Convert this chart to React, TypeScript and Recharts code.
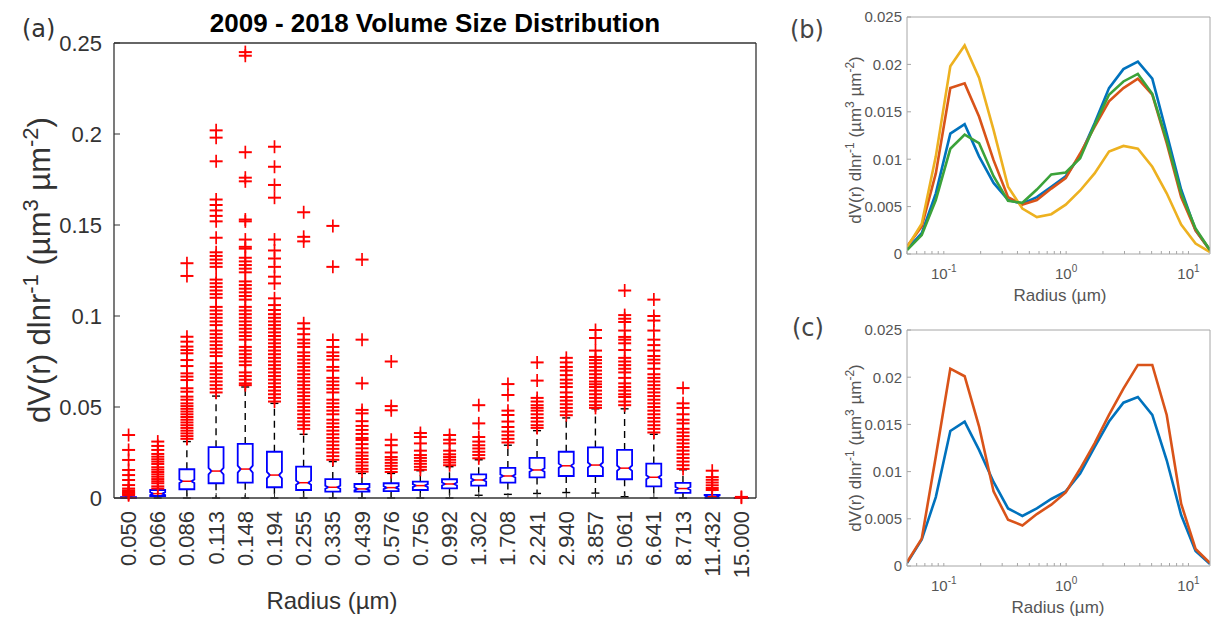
import React from "react";
import { ComposedChart, Bar, Scatter, XAxis, YAxis, LineChart, Line } from "recharts";

const FONT = "'Liberation Sans', Arial, Helvetica, sans-serif";
const LETTER_FONT = "'DejaVu Sans', Verdana, sans-serif";

// ---- panel (a): box plot per radius bin ----
const radiusLabels = [
  "0.050", "0.066", "0.086", "0.113", "0.148", "0.194", "0.255", "0.335", "0.439", "0.576", "0.756",
  "0.992", "1.302", "1.708", "2.241", "2.940", "3.857", "5.061", "6.641", "8.713", "11.432", "15.000",
];
const q1 = [0, 0.0011, 0.0048, 0.0081, 0.0084, 0.0059, 0.0044, 0.0035, 0.0035, 0.0038, 0.0044, 0.0053, 0.0068, 0.0085, 0.0113, 0.0121, 0.0121, 0.0103, 0.0064, 0.0028, 0, 0];
const med = [0.0001, 0.0024, 0.0092, 0.0148, 0.0159, 0.0126, 0.0084, 0.0059, 0.005, 0.0057, 0.0068, 0.0077, 0.0099, 0.0121, 0.0154, 0.0177, 0.0181, 0.0164, 0.0114, 0.0052, 0.0007, 0];
const q3 = [0.0005, 0.0044, 0.0158, 0.0279, 0.0297, 0.0254, 0.0172, 0.0104, 0.0077, 0.0081, 0.009, 0.0103, 0.013, 0.0165, 0.022, 0.0254, 0.0278, 0.0264, 0.0189, 0.0083, 0.0017, 0];
const whiskLo = [0, 0, 0, 0, 0, 0, 0, 0, 0, 0, 0, 0, 0.0015, 0.002, 0.0025, 0.003, 0.0027, 0.0007, 0, 0, 0, 0];
const whiskHi = [0.0012, 0.0048, 0.031, 0.056, 0.061, 0.052, 0.035, 0.02, 0.0135, 0.0135, 0.015, 0.0172, 0.021, 0.029, 0.037, 0.044, 0.049, 0.049, 0.035, 0.0155, 0.0042, 0];

const outliers: number[][] = [
  [0.0346, 0.0264, 0.0209, 0.0154, 0.0126, 0.0099, 0.0071, 0.0052, 0.0042, 0.0035, 0.0028, 0.0021, 0.0015],
  [0.031, 0.0286, 0.0264, 0.0242, 0.0227, 0.0213, 0.02, 0.0187, 0.0169, 0.0156, 0.0143, 0.013, 0.0117, 0.0104, 0.0092, 0.0081, 0.0064, 0.0052],
  [0.129, 0.122, 0.0886, 0.0859, 0.0832, 0.0813, 0.0795, 0.0758, 0.0725, 0.0685, 0.0667, 0.0648, 0.0603, 0.0584, 0.0557, 0.054, 0.052, 0.0505, 0.049, 0.0475, 0.046, 0.0445, 0.043, 0.0415, 0.04, 0.0385, 0.037, 0.0355, 0.034, 0.0325],
  [0.202, 0.198, 0.185, 0.164, 0.161, 0.158, 0.155, 0.152, 0.143, 0.135, 0.133, 0.131, 0.129, 0.127, 0.12, 0.118, 0.116, 0.114, 0.112, 0.11, 0.105, 0.103, 0.101, 0.099, 0.097, 0.095, 0.092, 0.09, 0.088, 0.086, 0.084, 0.082, 0.08, 0.078, 0.074, 0.072, 0.07, 0.068, 0.066, 0.064, 0.062, 0.06, 0.058],
  [0.245, 0.243, 0.19, 0.176, 0.174, 0.153, 0.152, 0.142, 0.138, 0.137, 0.132, 0.13, 0.128, 0.126, 0.124, 0.119, 0.117, 0.115, 0.113, 0.111, 0.109, 0.105, 0.103, 0.101, 0.099, 0.097, 0.095, 0.093, 0.091, 0.089, 0.087, 0.083, 0.081, 0.079, 0.077, 0.075, 0.073, 0.069, 0.067, 0.065, 0.063, 0.062],
  [0.193, 0.182, 0.172, 0.165, 0.142, 0.136, 0.1316, 0.127, 0.1216, 0.1179, 0.1097, 0.106, 0.1033, 0.101, 0.099, 0.097, 0.095, 0.093, 0.091, 0.089, 0.087, 0.085, 0.083, 0.081, 0.079, 0.077, 0.075, 0.073, 0.071, 0.069, 0.067, 0.065, 0.063, 0.061, 0.059, 0.057, 0.055, 0.053],
  [0.157, 0.1435, 0.141, 0.096, 0.093, 0.09, 0.087, 0.085, 0.083, 0.08, 0.078, 0.076, 0.074, 0.072, 0.07, 0.068, 0.066, 0.064, 0.062, 0.06, 0.058, 0.056, 0.054, 0.052, 0.05, 0.048, 0.046, 0.044, 0.042, 0.04, 0.038],
  [0.1495, 0.127, 0.0868, 0.083, 0.08, 0.078, 0.076, 0.072, 0.07, 0.066, 0.064, 0.062, 0.06, 0.058, 0.054, 0.052, 0.05, 0.048, 0.046, 0.043, 0.041, 0.039, 0.037, 0.035, 0.033, 0.031, 0.029, 0.027, 0.025, 0.023, 0.021],
  [0.131, 0.087, 0.063, 0.0484, 0.0465, 0.0422, 0.0396, 0.0374, 0.0352, 0.033, 0.0319, 0.0296, 0.0273, 0.025, 0.0232, 0.0214, 0.0196, 0.0178, 0.016, 0.0145],
  [0.075, 0.0505, 0.0482, 0.032, 0.029, 0.025, 0.0225, 0.021, 0.0193, 0.0177, 0.016, 0.0143],
  [0.0357, 0.0335, 0.03, 0.026, 0.0236, 0.022, 0.0204, 0.0188, 0.0171, 0.0155],
  [0.0346, 0.032, 0.03, 0.026, 0.024, 0.0225, 0.021, 0.0195, 0.018],
  [0.051, 0.041, 0.0335, 0.031, 0.029, 0.0272, 0.0254, 0.0236, 0.0218],
  [0.0626, 0.0566, 0.048, 0.0456, 0.042, 0.039, 0.0365, 0.0345, 0.0325, 0.0305],
  [0.0745, 0.0645, 0.055, 0.053, 0.051, 0.0495, 0.048, 0.046, 0.044, 0.042, 0.04, 0.0385],
  [0.077, 0.0745, 0.072, 0.07, 0.0675, 0.065, 0.063, 0.061, 0.058, 0.0555, 0.0535, 0.0515, 0.0495, 0.0475, 0.0455],
  [0.0923, 0.0879, 0.081, 0.0775, 0.0758, 0.074, 0.072, 0.07, 0.068, 0.066, 0.064, 0.0625, 0.061, 0.059, 0.057, 0.055, 0.053, 0.051, 0.0495],
  [0.114, 0.1005, 0.0985, 0.0967, 0.092, 0.0885, 0.087, 0.085, 0.0813, 0.077, 0.075, 0.073, 0.071, 0.069, 0.066, 0.063, 0.061, 0.059, 0.057, 0.0555, 0.053, 0.051],
  [0.109, 0.1, 0.0975, 0.092, 0.087, 0.084, 0.081, 0.078, 0.076, 0.074, 0.071, 0.068, 0.066, 0.064, 0.062, 0.06, 0.058, 0.056, 0.054, 0.052, 0.05, 0.048, 0.046, 0.044, 0.042, 0.04, 0.038, 0.036],
  [0.0604, 0.052, 0.0495, 0.046, 0.043, 0.041, 0.038, 0.036, 0.034, 0.032, 0.03, 0.028, 0.026, 0.024, 0.022, 0.02, 0.018, 0.016],
  [0.015, 0.0115, 0.01, 0.0085, 0.007, 0.0055, 0.0044],
  [0.0006, 0.0002],
];
const yTicksA = [0, 0.05, 0.1, 0.15, 0.2, 0.25];

// ---- panels (b) and (c): mean size distributions ----
const radii = [0.05, 0.066, 0.086, 0.113, 0.148, 0.194, 0.255, 0.335, 0.439, 0.576, 0.756, 0.992, 1.302, 1.708, 2.241, 2.94, 3.857, 5.061, 6.641, 8.713, 11.432, 15];
const bBlue = [0.0005, 0.0022, 0.0064, 0.0127, 0.0137, 0.0103, 0.0075, 0.0057, 0.0053, 0.006, 0.0071, 0.0082, 0.0104, 0.0138, 0.0175, 0.0195, 0.0203, 0.0185, 0.0127, 0.0068, 0.0025, 0.0004];
const bRed = [0.0008, 0.0029, 0.0085, 0.0175, 0.018, 0.0145, 0.0099, 0.006, 0.0052, 0.0057, 0.0069, 0.008, 0.0106, 0.0134, 0.0161, 0.0175, 0.0185, 0.0168, 0.0117, 0.006, 0.0025, 0.0004];
const bYellow = [0.0007, 0.0032, 0.0103, 0.0198, 0.022, 0.0186, 0.0131, 0.0071, 0.0048, 0.0039, 0.0042, 0.0052, 0.0067, 0.0085, 0.0108, 0.0114, 0.0111, 0.0092, 0.0064, 0.0031, 0.0011, 0.0002];
const bGreen = [0.0004, 0.002, 0.0057, 0.0111, 0.0126, 0.0117, 0.0082, 0.0056, 0.0054, 0.0068, 0.0084, 0.0086, 0.0101, 0.0136, 0.0168, 0.0182, 0.019, 0.0169, 0.012, 0.0064, 0.0027, 0.0004];
const cBlue = [0.0003, 0.0028, 0.0073, 0.0143, 0.0153, 0.0123, 0.0089, 0.0061, 0.0053, 0.0061, 0.0071, 0.0079, 0.0098, 0.0126, 0.0153, 0.0173, 0.0179, 0.016, 0.0112, 0.0054, 0.0016, 0.0002];
const cRed = [0.0004, 0.0029, 0.0116, 0.0209, 0.0201, 0.0148, 0.0079, 0.0049, 0.0043, 0.0055, 0.0065, 0.0078, 0.0103, 0.013, 0.016, 0.0188, 0.0213, 0.0213, 0.016, 0.0066, 0.0018, 0.0003];
const yTicksBC = [0, 0.005, 0.01, 0.015, 0.02, 0.025];
const logTicks = [0.05, 0.06, 0.07, 0.08, 0.09, 0.1, 0.2, 0.3, 0.4, 0.5, 0.6, 0.7, 0.8, 0.9, 1, 2, 3, 4, 5, 6, 7, 8, 9, 10];

const boxRows = radiusLabels.map((r, i) => ({
  r,
  q1: q1[i],
  med: med[i],
  q3: q3[i],
  lo: whiskLo[i],
  hi: whiskHi[i],
}));
const outlierPts = outliers.flatMap((vals, i) => vals.map((v) => ({ i, v })));
const bRows = radii.map((r, i) => ({ r, blue: bBlue[i], red: bRed[i], yellow: bYellow[i], green: bGreen[i] }));
const cRows = radii.map((r, i) => ({ r, blue: cBlue[i], red: cRed[i] }));

const fmt = (v: number) => (v === 0 ? "0" : String(v));

// notched box + dashed whiskers, drawn inside the bar that spans the whisker range
function BoxShape(props: any) {
  const { x, y, width, height, payload } = props;
  if (x == null || !payload) return null;
  const top = Math.min(y, y + height);
  const bot = Math.max(y, y + height);
  const span = payload.hi - payload.lo;
  const py = (v: number) => (span > 0 ? bot - ((v - payload.lo) / span) * (bot - top) : bot);
  const cx = x + width / 2;
  const L = x;
  const R = x + width;
  const yq1 = py(payload.q1);
  const yq3 = py(payload.q3);
  const ym = py(payload.med);
  const ylo = py(payload.lo);
  const yhi = py(payload.hi);
  const boxH = yq1 - yq3;
  const nh = Math.min(Math.max(boxH * 0.09, 1.5), ym - yq3, yq1 - ym);
  const ins = 3;
  const notch = nh > 0.3;
  const d = notch
    ? `M${L},${yq3} H${R} V${ym - nh} L${R - ins},${ym} L${R},${ym + nh} V${yq1} H${L} V${ym + nh} L${L + ins},${ym} L${L},${ym - nh} Z`
    : `M${L},${yq3} H${R} V${yq1} H${L} Z`;
  return (
    <g>
      {yhi < yq3 && <line x1={cx} x2={cx} y1={yq3} y2={yhi} stroke="#000" strokeWidth={1.4} strokeDasharray="7 5" />}
      {ylo > yq1 && <line x1={cx} x2={cx} y1={yq1} y2={ylo} stroke="#000" strokeWidth={1.4} strokeDasharray="7 5" />}
      <line x1={cx - 4} x2={cx + 4} y1={yhi} y2={yhi} stroke="#000" strokeWidth={1.4} />
      <line x1={cx - 4} x2={cx + 4} y1={ylo} y2={ylo} stroke="#000" strokeWidth={1.4} />
      <path d={d} fill="none" stroke="#0000ff" strokeWidth={1.8} />
      <line x1={L + (notch ? ins : 0)} x2={R - (notch ? ins : 0)} y1={ym} y2={ym} stroke="#ff0000" strokeWidth={1.5} />
    </g>
  );
}

function PlusShape(props: any) {
  const { cx, cy } = props;
  if (cx == null || cy == null) return null;
  return (
    <g>
      <line x1={cx - 6.5} x2={cx + 6.5} y1={cy} y2={cy} stroke="#ff0000" strokeWidth={2} />
      <line x1={cx} x2={cx} y1={cy - 6.5} y2={cy + 6.5} stroke="#ff0000" strokeWidth={1.7} />
    </g>
  );
}

function RotTick({ x, y, payload }: any) {
  return (
    <text
      x={x}
      y={y}
      transform={`rotate(-90 ${x} ${y})`}
      textAnchor="end"
      dominantBaseline="central"
      fontSize={22}
      fill="#333"
      fontFamily={FONT}
    >
      {payload.value}
    </text>
  );
}

function LogTick({ x, y, payload }: any) {
  const v = payload.value;
  const e = Math.round(Math.log10(v));
  if (Math.abs(Math.log10(v) - e) > 1e-6) return null;
  return (
    <text x={x} y={y + 25} textAnchor="middle" fontSize={15} fill="#555" fontFamily={FONT}>
      10
      <tspan dy={-7} fontSize={10}>
        {e}
      </tspan>
    </text>
  );
}

function SmallPanel({ rows, series, top }: { rows: any[]; series: { key: string; color: string }[]; top: number }) {
  const axisStroke = "#a6a6a6";
  return (
    <LineChart width={452} height={310} data={rows} margin={{ top, right: 1, bottom: 56 - (top === 16 ? 30 : 32), left: 97 }}>
      <XAxis
        dataKey="r"
        type="number"
        scale="log"
        domain={[0.05, 15]}
        allowDataOverflow
        ticks={logTicks}
        interval={0}
        height={30}
        tickSize={-3}
        tickMargin={3}
        tick={<LogTick />}
        axisLine={{ stroke: axisStroke }}
        tickLine={{ stroke: axisStroke }}
      />
      <XAxis
        xAxisId="top"
        orientation="top"
        type="number"
        scale="log"
        domain={[0.05, 15]}
        allowDataOverflow
        ticks={logTicks}
        interval={0}
        height={1}
        tickSize={-3}
        tick={false}
        axisLine={{ stroke: axisStroke }}
        tickLine={{ stroke: axisStroke }}
      />
      <YAxis
        type="number"
        domain={[0, 0.025]}
        ticks={yTicksBC}
        interval={0}
        width={50}
        tickSize={-4}
        tickMargin={9}
        tickFormatter={fmt}
        tick={{ fontSize: 15, fill: "#555", fontFamily: FONT }}
        axisLine={{ stroke: axisStroke }}
        tickLine={{ stroke: axisStroke }}
      />
      <YAxis
        yAxisId="right"
        orientation="right"
        type="number"
        domain={[0, 0.025]}
        ticks={yTicksBC}
        interval={0}
        width={1}
        tickSize={-4}
        tick={false}
        axisLine={{ stroke: axisStroke }}
        tickLine={{ stroke: axisStroke }}
      />
      {series.map((s) => (
        <Line
          key={s.key}
          dataKey={s.key}
          type="linear"
          stroke={s.color}
          strokeWidth={2.6}
          dot={false}
          isAnimationActive={false}
        />
      ))}
    </LineChart>
  );
}

export default function App() {
  const axisA = "#333";
  return (
    <div style={{ position: "relative", width: 1212, height: 620, background: "#fff", overflow: "hidden" }}>
      <style>{`body{margin:0}`}</style>

      <div style={{ position: "absolute", left: 0, top: 0 }}>
        <ComposedChart width={760} height={620} data={boxRows} margin={{ top: 42, right: 3, bottom: 42, left: 54 }}>
          <XAxis
            xAxisId="cat"
            dataKey="r"
            type="category"
            interval={0}
            height={80}
            tickSize={-5}
            tickMargin={18}
            tick={<RotTick />}
            axisLine={{ stroke: axisA, strokeWidth: 1.3 }}
            tickLine={{ stroke: axisA }}
          />
          <XAxis xAxisId="num" dataKey="i" type="number" domain={[-0.5, 21.5]} hide />
          <XAxis
            xAxisId="top"
            orientation="top"
            type="number"
            domain={[-0.5, 21.5]}
            ticks={radiusLabels.map((_, i) => i)}
            interval={0}
            height={1}
            tickSize={-5}
            tick={false}
            axisLine={{ stroke: axisA, strokeWidth: 1.3 }}
            tickLine={{ stroke: axisA }}
          />
          <YAxis
            dataKey="v"
            type="number"
            domain={[0, 0.25]}
            ticks={yTicksA}
            interval={0}
            width={60}
            tickSize={-6}
            tickMargin={18}
            tickFormatter={fmt}
            tick={{ fontSize: 22, fill: "#333", fontFamily: FONT }}
            axisLine={{ stroke: axisA, strokeWidth: 1.3 }}
            tickLine={{ stroke: axisA }}
          />
          <YAxis
            yAxisId="right"
            orientation="right"
            type="number"
            domain={[0, 0.25]}
            ticks={yTicksA}
            interval={0}
            width={1}
            tickSize={-6}
            tick={false}
            axisLine={{ stroke: axisA, strokeWidth: 1.3 }}
            tickLine={{ stroke: axisA }}
          />
          <Bar
            xAxisId="cat"
            dataKey={(d: any) => [d.lo, d.hi]}
            barSize={15}
            shape={<BoxShape />}
            isAnimationActive={false}
          />
          <Scatter xAxisId="num" data={outlierPts} dataKey="v" shape={<PlusShape />} isAnimationActive={false} />
        </ComposedChart>
      </div>

      <div style={{ position: "absolute", left: 760, top: 0 }}>
        <SmallPanel
          rows={bRows}
          top={16}
          series={[
            { key: "blue", color: "#0072BD" },
            { key: "red", color: "#D95319" },
            { key: "yellow", color: "#EDB120" },
            { key: "green", color: "#3BA23A" },
          ]}
        />
      </div>
      <div style={{ position: "absolute", left: 760, top: 310 }}>
        <SmallPanel
          rows={cRows}
          top={19}
          series={[
            { key: "blue", color: "#0072BD" },
            { key: "red", color: "#D95319" },
          ]}
        />
      </div>

      <svg width={1212} height={620} style={{ position: "absolute", left: 0, top: 0, pointerEvents: "none" }}>
        <text x={435} y={32} textAnchor="middle" fontSize={26} fontWeight="bold" fontFamily={FONT} fill="#000">
          2009 - 2018 Volume Size Distribution
        </text>
        <text x={22} y={37} fontSize={24} fontFamily={LETTER_FONT} fill="#333">
          (a)
        </text>
        <text transform="translate(50,270) rotate(-90)" textAnchor="middle" fontSize={31} fontFamily={FONT} fill="#333">
          dV(r) dlnr
          <tspan dy={-12} fontSize={22}>-1</tspan>
          <tspan dy={12}> (µm</tspan>
          <tspan dy={-12} fontSize={22}>3</tspan>
          <tspan dy={12}> µm</tspan>
          <tspan dy={-12} fontSize={22}>-2</tspan>
          <tspan dy={12}>)</tspan>
        </text>
        <text x={332} y={609} textAnchor="middle" fontSize={24} fontFamily={FONT} fill="#333">
          Radius (µm)
        </text>

        <text x={790} y={38} fontSize={24} fontFamily={LETTER_FONT} fill="#444">
          (b)
        </text>
        <text transform="translate(861,140) rotate(-90)" textAnchor="middle" fontSize={17} fontFamily={FONT} fill="#555">
          dV(r) dlnr
          <tspan dy={-7} fontSize={12}>-1</tspan>
          <tspan dy={7}> (µm</tspan>
          <tspan dy={-7} fontSize={12}>3</tspan>
          <tspan dy={7}> µm</tspan>
          <tspan dy={-7} fontSize={12}>-2</tspan>
          <tspan dy={7}>)</tspan>
        </text>
        <text x={1060} y={301} textAnchor="middle" fontSize={17} fontFamily={FONT} fill="#555">
          Radius (µm)
        </text>

        <text x={792} y={336} fontSize={24} fontFamily={LETTER_FONT} fill="#444">
          (c)
        </text>
        <text transform="translate(861,448) rotate(-90)" textAnchor="middle" fontSize={17} fontFamily={FONT} fill="#555">
          dV(r) dlnr
          <tspan dy={-7} fontSize={12}>-1</tspan>
          <tspan dy={7}> (µm</tspan>
          <tspan dy={-7} fontSize={12}>3</tspan>
          <tspan dy={7}> µm</tspan>
          <tspan dy={-7} fontSize={12}>-2</tspan>
          <tspan dy={7}>)</tspan>
        </text>
        <text x={1058} y={613} textAnchor="middle" fontSize={17} fontFamily={FONT} fill="#555">
          Radius (µm)
        </text>
      </svg>
    </div>
  );
}
